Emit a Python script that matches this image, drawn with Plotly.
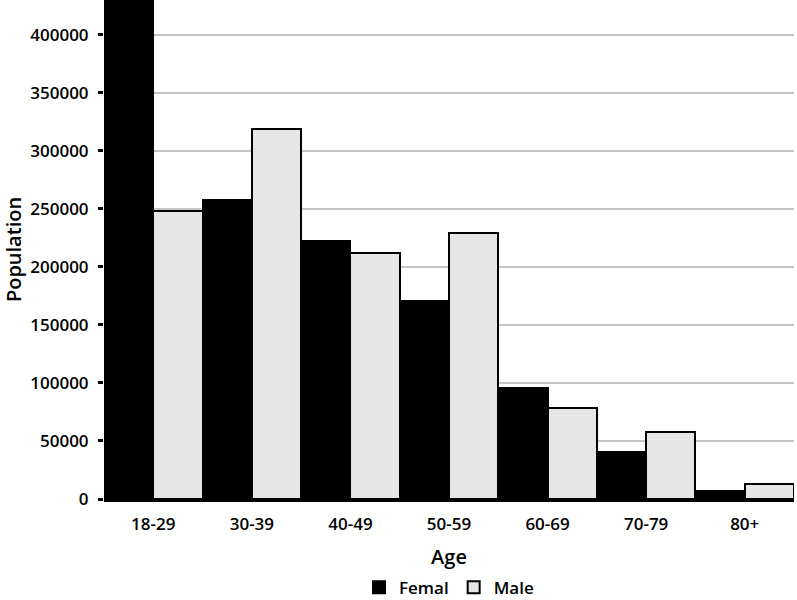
import plotly.graph_objects as go

ages = ["18-29", "30-39", "40-49", "50-59", "60-69", "70-79", "80+"]
female = [445000, 258000, 222000, 171000, 95500, 40500, 7000]
male = [248000, 319000, 212000, 229000, 78000, 57500, 12700]

font_family = "Open Sans, Lato, sans-serif"

fig = go.Figure()
fig.add_trace(
    go.Bar(
        x=ages,
        y=female,
        name="Femal",
        marker={"color": "black", "line": {"color": "black", "width": 2}},
    )
)
fig.add_trace(
    go.Bar(
        x=ages,
        y=male,
        name="Male",
        marker={"color": "#e6e6e6", "line": {"color": "black", "width": 2}},
    )
)

fig.update_layout(
    width=797,
    height=600,
    barmode="group",
    bargap=0,
    bargroupgap=0,
    plot_bgcolor="white",
    paper_bgcolor="white",
    font={"family": font_family, "size": 17, "color": "black", "weight": 600},
    margin={"l": 104, "r": 3, "t": 0, "b": 101, "autoexpand": False},
    legend={
        "orientation": "h",
        "x": 0.5,
        "xanchor": "center",
        "y": -0.178,
        "yanchor": "middle",
        "font": {"size": 17, "weight": 600},
        "itemwidth": 30,
    },
)

fig.update_xaxes(
    title={"text": "Age", "standoff": 16},
    showline=True,
    linecolor="black",
    linewidth=3,
    ticks="outside",
    ticklen=8,
    tickcolor="rgba(0,0,0,0)",
    showgrid=False,
    automargin=False,
)
fig.update_yaxes(
    title={"text": "Population", "standoff": 6},
    range=[0, 430000],
    dtick=50000,
    tickformat="d",
    ticks="outside",
    ticklen=5,
    tickwidth=3,
    tickcolor="black",
    ticklabelstandoff=6,
    gridcolor="#c4c4c4",
    gridwidth=2,
    zeroline=False,
    showline=False,
    automargin=False,
)

# page has a default 8px body margin; drop it so the figure fills the window
fig.write_html(
    "out.html",
    config={"displayModeBar": False},
    post_script="document.body.style.margin='0';document.body.style.overflow='hidden';",
)
